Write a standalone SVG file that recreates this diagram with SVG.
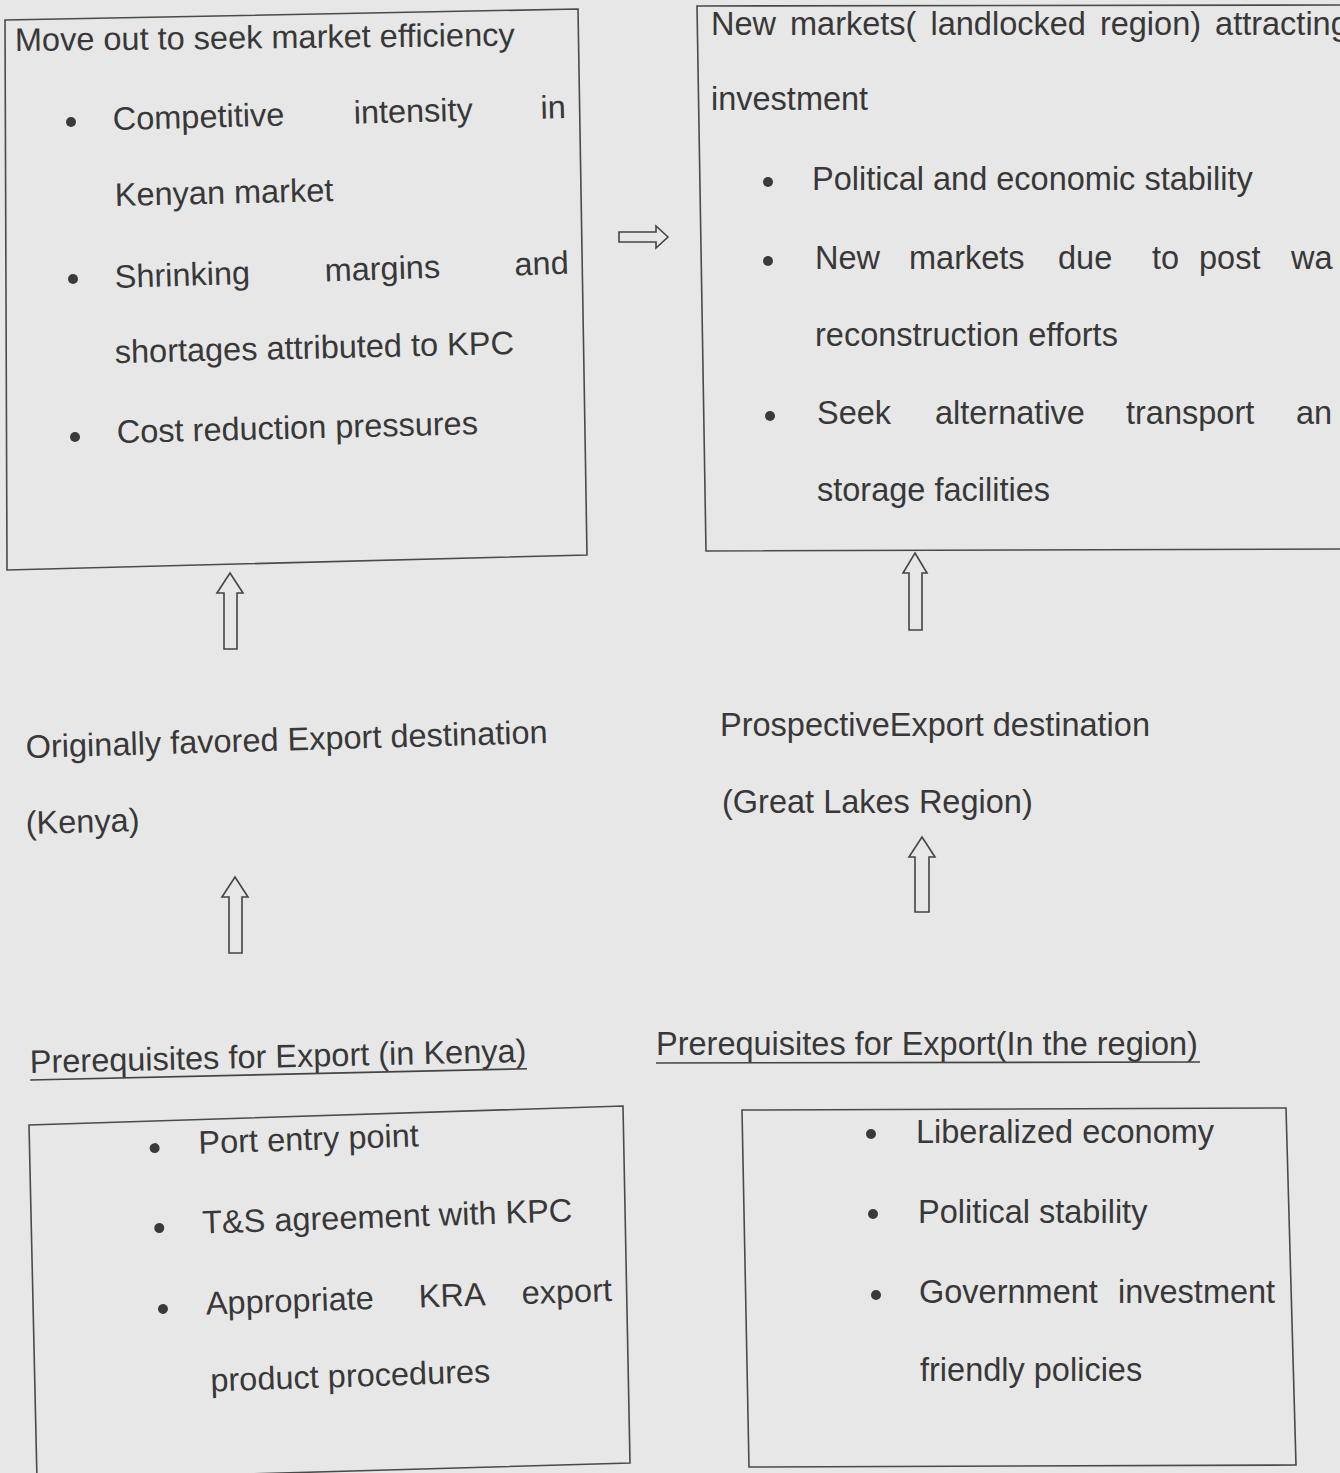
<svg xmlns="http://www.w3.org/2000/svg" width="1340" height="1473" viewBox="0 0 1340 1473">
<style>
  text { font-family: "Liberation Sans", Arial, sans-serif; font-size: 32.5px; fill: #383838; }
  .box { fill: none; stroke: #4a4a4a; stroke-width: 1.6; }
  .arrow { fill: none; stroke: #444; stroke-width: 1.6; stroke-linejoin: miter; }
  .dot { fill: #3a3a3a; }
  .ul { stroke: #444; stroke-width: 1.6; }
</style>
<rect x="0" y="0" width="1340" height="1473" fill="#e7e7e7"/>

<g id="node-move-out">
  <polygon class="box" points="5,20 578,9 587,555 7,570"/>
  <text x="15" y="51" transform="rotate(-0.6 15 51)">Move out to seek market efficiency</text>
  <circle class="dot" cx="71" cy="122" r="5"/>
  <text transform="rotate(-1.5 113 130)"><tspan x="113" y="130">Competitive</tspan><tspan x="354" y="130">intensity</tspan><tspan x="541" y="130">in</tspan></text>
  <text x="115" y="206" transform="rotate(-1.3 115 206)">Kenyan market</text>
  <circle class="dot" cx="73" cy="279" r="5"/>
  <text transform="rotate(-1.8 115 288)"><tspan x="115" y="288">Shrinking</tspan><tspan x="325" y="288">margins</tspan><tspan x="515" y="288">and</tspan></text>
  <text x="115" y="363" transform="rotate(-1.3 115 363)">shortages attributed to KPC</text>
  <circle class="dot" cx="75" cy="437" r="5"/>
  <text x="117" y="443" transform="rotate(-1.4 117 443)">Cost reduction pressures</text>
</g>

<g id="node-new-markets">
  <polyline class="box" points="1345,5 697,6 706,551 1345,549"/>
  <text x="711" y="35" word-spacing="5">New markets( landlocked region) attracting</text>
  <text x="711" y="110">investment</text>
  <circle class="dot" cx="768" cy="182" r="5"/>
  <text x="812" y="190">Political and economic stability</text>
  <circle class="dot" cx="768" cy="261" r="5"/>
  <text y="269"><tspan x="815">New</tspan><tspan x="909">markets</tspan><tspan x="1058">due</tspan><tspan x="1152">to</tspan><tspan x="1199">post</tspan><tspan x="1291">wa</tspan></text>
  <text x="815" y="346">reconstruction efforts</text>
  <circle class="dot" cx="770" cy="416" r="5"/>
  <text y="424"><tspan x="817">Seek</tspan><tspan x="935">alternative</tspan><tspan x="1126">transport</tspan><tspan x="1296">an</tspan></text>
  <text x="817" y="501">storage facilities</text>
</g>

<g id="node-originally">
  <text x="26" y="758" transform="rotate(-1.65 26 758)">Originally favored Export destination</text>
  <text x="26" y="834" transform="rotate(-1.5 26 834)">(Kenya)</text>
</g>

<g id="node-prospective">
  <text x="720" y="736">ProspectiveExport destination</text>
  <text x="722" y="813">(Great Lakes Region)</text>
</g>

<g id="node-prereq-kenya">
  <g transform="rotate(-1.3 30 1073)">
    <text x="30" y="1073">Prerequisites for Export (in Kenya)</text>
    <line class="ul" x1="30" y1="1080" x2="527" y2="1080"/>
  </g>
  <polygon class="box" points="29,1125 623,1106 630,1463 37,1480"/>
  <g transform="rotate(-1.9 160 1250)">
    <circle class="dot" cx="158" cy="1148" r="5"/>
    <text x="202" y="1155">Port entry point</text>
    <circle class="dot" cx="160" cy="1228" r="5"/>
    <text x="203" y="1235">T&amp;S agreement with KPC</text>
    <circle class="dot" cx="161" cy="1309" r="5"/>
    <text y="1316"><tspan x="204">Appropriate</tspan><tspan x="417">KRA</tspan><tspan x="520">export</tspan></text>
    <text x="206" y="1393">product procedures</text>
  </g>
</g>

<g id="node-prereq-region">
  <text x="656" y="1055">Prerequisites for Export(In the region)</text>
  <line class="ul" x1="656" y1="1063" x2="1200" y2="1062"/>
  <polygon class="box" points="742,1110 1286,1108 1296,1465 749,1467"/>
  <circle class="dot" cx="871" cy="1134" r="5"/>
  <text x="916" y="1143">Liberalized economy</text>
  <circle class="dot" cx="873" cy="1214" r="5"/>
  <text x="918" y="1223">Political stability</text>
  <circle class="dot" cx="876" cy="1295" r="5"/>
  <text y="1303"><tspan x="919">Government</tspan><tspan x="1118">investment</tspan></text>
  <text x="920" y="1381">friendly policies</text>
</g>

<g id="connectors">
  <path class="arrow" d="M668,237 L656,226 L656,232 L619,232 L619,242 L656,242 L656,248 Z"/>
  <path class="arrow" d="M230,573 L243,593 L237,593 L237,649 L224,649 L224,593 L217,593 Z"/>
  <path class="arrow" d="M915,553 L927,573 L922,573 L922,630 L909,630 L909,573 L903,573 Z"/>
  <path class="arrow" d="M235,877 L248,897 L242,897 L242,953 L229,953 L229,897 L222,897 Z"/>
  <path class="arrow" d="M922,837 L935,857 L929,857 L929,912 L915,912 L915,857 L909,857 Z"/>
</g>
</svg>
